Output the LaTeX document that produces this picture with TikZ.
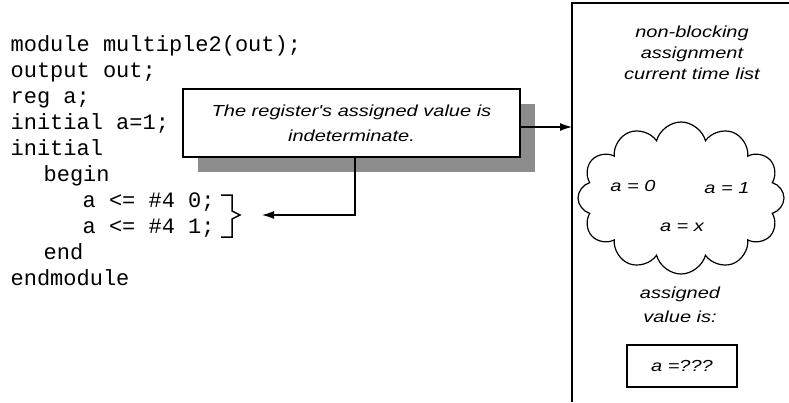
\documentclass[tikz,border=0pt]{standalone}
\usepackage{fontspec}
\usetikzlibrary{shapes.symbols,shadows,arrows.meta}
\newfontfamily\codefont{Liberation Mono}
\newfontfamily\notefont[FakeStretch=1.25]{Liberation Sans}

\begin{document}
\begin{tikzpicture}[x=1pt,y=-1pt,line width=1.2pt,
  code/.style={anchor=base west,inner sep=0pt,font=\codefont\fontsize{22}{26}\selectfont},
  note/.style={align=center,inner sep=0pt,font=\notefont\itshape\fontsize{16}{21}\selectfont},
  arr/.style={-{Latex[length=12pt,width=8pt]}}]
  \useasboundingbox (0,0) rectangle (789,402);
  \coordinate (listtop) at (572,3); \draw (789,3) -- (listtop) -- (572,402);
  \node[note] (listname) at (692,53) {non-blocking\\assignment\\current time list};
  \node[cloud,draw,cloud puffs=12,minimum width=206pt,minimum height=152pt] (pool) at (681,198) {};
  \node[note] (val0) at (633,186) {a = 0}; \node[note] (val1) at (727,188) {a = 1}; \node[note] (valx) at (682,227) {a = x};
  \node[note,font=\notefont\itshape\fontsize{16}{24}\selectfont] (assigned) at (680,305) {assigned\\value is:};
  \node[note,draw,minimum width=110pt,minimum height=42pt] (result) at (682,366) {a =???};
  \node[note,font=\notefont\itshape\fontsize{16}{25}\selectfont,draw,fill=white,minimum width=337pt,minimum height=68pt,
    drop shadow={shadow xshift=15pt,shadow yshift=-15pt,fill=black!45,opacity=1}] (callout) at (351.5,123)
    {The register's assigned value is\\indeterminate.};
  \coordinate (feed) at ([yshift=-4pt]callout.east); \draw[arr] (feed) -- (feed -| listtop);
  \foreach \ind/\txt [count=\i] in {0/module multiple2(out);, 0/output out;, 0/reg a;, 0/initial a=1;, 0/initial,
      33/begin, 72/a <= \#4 0;, 72/a <= \#4 1;, 33/end, 0/endmodule}
    \node[code] (line\i) at (10+\ind,25+26*\i) {\txt};
  \coordinate (bracetip) at (240,215); \coordinate (braceend) at (262,215);
  \draw[line width=1.5pt] (221,195) -- (232,195) -- (232,211) -- (bracetip) -- (232,219) -- (232,237) -- (221,237);
  \draw[arr] ([xshift=3.5pt]callout.south) |- (braceend);
\end{tikzpicture}
\end{document}
